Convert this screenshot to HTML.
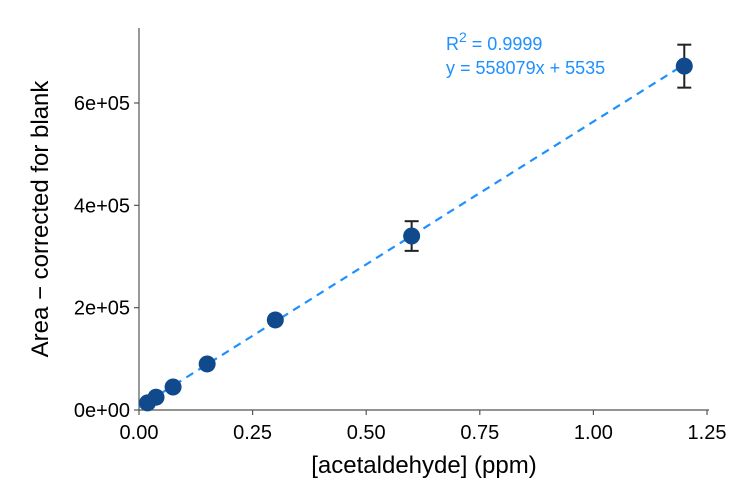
<!DOCTYPE html>
<html><head><meta charset="utf-8"><style>
body{margin:0;background:#fff;}
svg{display:block;font-family:"Liberation Sans",Arial,sans-serif;}
</style></head><body>
<svg id="chart" width="750" height="492"></svg>
<script>
const xs=[0.01875,0.0375,0.075,0.15,0.3,0.6,1.2];
const ys=[14000,25000,45000,90000,176000,340000,672000];
const errs=[0,0,0,0,0,29000,42000];
const xTicks=[0,0.25,0.5,0.75,1.0,1.25];
const xTickLabels=["0.00","0.25","0.50","0.75","1.00","1.25"];
const yTicks=[0,200000,400000,600000];
const yTickLabels=["0e+00","2e+05","4e+05","6e+05"];
const slope=558079, intercept=5535;
const NS="http://www.w3.org/2000/svg";
const svg=document.getElementById('chart');
const X=v=>139+v*(707-139)/1.25;
const Y=v=>410-v*(307/600000);
function mk(t,a,p){const e=document.createElementNS(NS,t);for(const k in a)e.setAttribute(k,a[k]);(p||svg).appendChild(e);return e;}
let e;
e=mk('line',{x1:139,y1:28,x2:139,y2:410,stroke:'#555','stroke-width':1.2});


e=mk('line',{x1:139,y1:410,x2:709,y2:410,stroke:'#555','stroke-width':1.2});


xTicks.forEach((v,i)=>{
 e=mk('line',{x1:X(v),y1:410,x2:X(v),y2:415,stroke:'#555','stroke-width':1.2});
 
 
 e=mk('text',{x:X(v),y:439,'text-anchor':'middle','font-size':20,fill:'#000'});e.textContent=xTickLabels[i];
 
 
});
yTicks.forEach((v,i)=>{
 e=mk('line',{x1:134,y1:Y(v),x2:139,y2:Y(v),stroke:'#555','stroke-width':1.2});
 
 
 e=mk('text',{x:130,y:Y(v)+7,'text-anchor':'end','font-size':20,fill:'#000'});e.textContent=yTickLabels[i];
 
 
});
e=mk('text',{x:424,y:473,'text-anchor':'middle','font-size':24,fill:'#000'});e.textContent='[acetaldehyde] (ppm)';


e=mk('text',{x:0,y:0,transform:'translate(48,219) rotate(-90)','text-anchor':'middle','font-size':24,fill:'#000'});e.textContent='Area \u2212 corrected for blank';


e=mk('line',{x1:X(0),y1:Y(intercept),x2:X(1.2),y2:Y(slope*1.2+intercept),stroke:'#1e90ff','stroke-width':2.2,'stroke-dasharray':'8,6'});


xs.forEach((x,i)=>{
 if(errs[i]>0){
  const g=mk('g',{stroke:'#222','stroke-width':2});
  
  
  mk('line',{x1:X(x),y1:Y(ys[i]-errs[i]),x2:X(x),y2:Y(ys[i]+errs[i])},g);
  mk('line',{x1:X(x)-7,y1:Y(ys[i]-errs[i]),x2:X(x)+7,y2:Y(ys[i]-errs[i])},g);
  mk('line',{x1:X(x)-7,y1:Y(ys[i]+errs[i]),x2:X(x)+7,y2:Y(ys[i]+errs[i])},g);
 }
});
xs.forEach((x,i)=>{
 e=mk('circle',{cx:X(x),cy:Y(ys[i]),r:8.5,fill:'#104a8c'});
 
 
});
e=mk('text',{x:446,y:50,'font-size':18,fill:'#1e90ff'});
e.innerHTML='R<tspan dy="-8" font-size="14">2</tspan><tspan dy="8"> = 0.9999</tspan>';


e=mk('text',{x:446,y:74,'font-size':18,fill:'#1e90ff'});e.textContent='y = 558079x + 5535';


</script>
</body></html>
